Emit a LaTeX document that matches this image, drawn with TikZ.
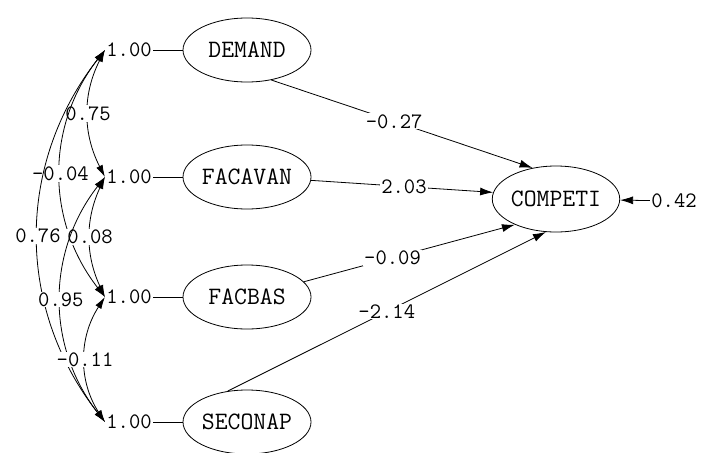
\documentclass[tikz,border=0pt]{standalone}
\usetikzlibrary{shapes.geometric, arrows.meta}

\begin{document}
\begin{tikzpicture}[x=1pt, y=-1pt, line width=0.8pt,
    latent/.style={ellipse, draw, minimum width=128pt, minimum height=64pt,
        inner sep=0pt, font=\ttfamily\fontsize{25}{27}\selectfont},
    coef/.style={fill=white, inner sep=1pt, font=\ttfamily\fontsize{22}{24}\selectfont},
    effect/.style={-{Latex[length=13pt,width=8pt]}},
    cov/.style={{Latex[length=12pt,width=7pt]}-{Latex[length=12pt,width=7pt]}}]
    \useasboundingbox (0,0) rectangle (703,452);

        % draw exogenous variables with fixed variances
        \foreach \i/\n/\lab/\y in {1/demand/DEMAND/50, 2/facavan/FACAVAN/177,
            3/facbas/FACBAS/297, 4/seconap/SECONAP/422} {
            \node[latent] (\n) at (247,\y) {\lab};
            \node[coef] (v\i) at (129,\y) {1.00};
            \draw (v\i) -- (\n);
        }

        % draw endogenous variable
        \node[latent, minimum width=126pt, minimum height=66pt] (competi) at (556,199) {COMPETI};
        \node[coef] (err) at (674,201) {0.42};
        \draw[effect] (err) -- (competi);

        % covariances
        \foreach \a/\b/\ang/\val in {v1/v2/27/0.75, v1/v3/38/-0.04, v1/v4/38/0.76,
            v2/v3/25/0.08, v2/v4/38/0.95, v3/v4/33/-0.11}
        \draw[cov] (\a.west) to[bend right=\ang] node[coef] {\val} (\b.west);

        % paths
        \draw[effect] (demand.-51) -- node[coef, pos=0.47] {-0.27} (competi.127);
        \draw[effect] (facavan.-3) -- node[coef, pos=0.51] {2.03} (competi.174);
        \draw[effect] (facbas.15) -- node[coef, pos=0.42] {-0.09} (competi.212);
        \draw[effect] (seconap.122) -- node[coef, pos=0.5] {-2.14} (competi.253);
    \end{tikzpicture}
\end{document}
